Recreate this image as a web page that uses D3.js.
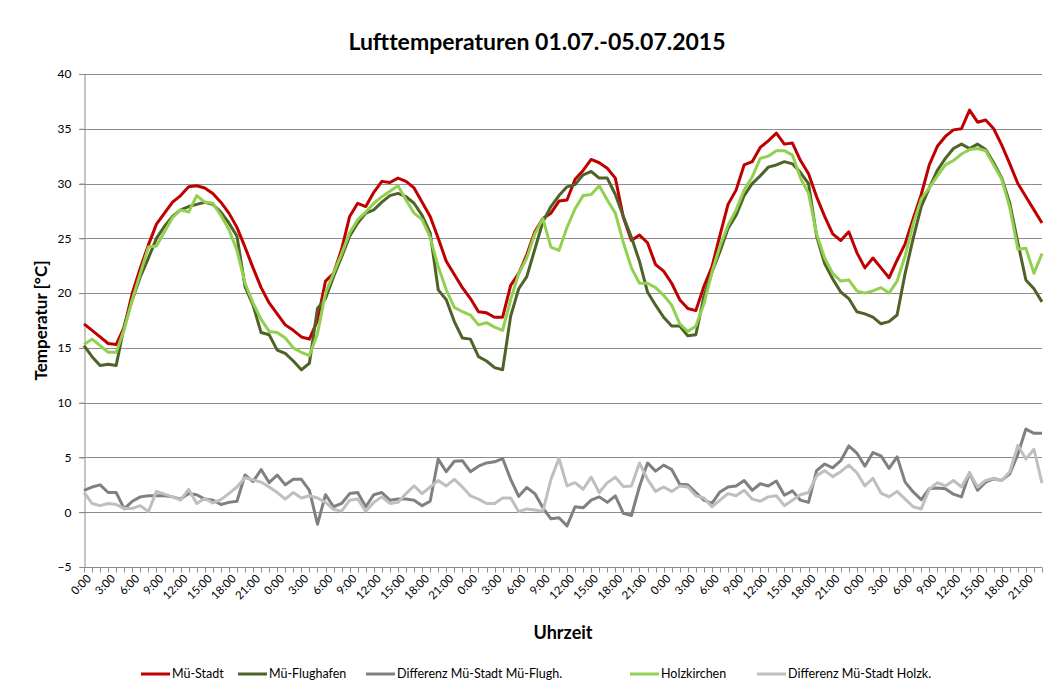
<!DOCTYPE html>
<html><head><meta charset="utf-8">
<script src="https://cdn.jsdelivr.net/npm/d3@7"></script>
<style>
html,body{margin:0;padding:0;background:#fff;}
svg{display:block;font-family:Lato,"Open Sans",sans-serif;}
</style></head>
<body><svg id="c" width="1056" height="691"></svg>
<script>
// ---- data ----
const title = "Lufttemperaturen 01.07.-05.07.2015";
const yTitle = "Temperatur [°C]";
const xTitle = "Uhrzeit";
const hourLabels = ["0:00","1:00","2:00","3:00","4:00","5:00","6:00","7:00","8:00","9:00","10:00","11:00",
  "12:00","13:00","14:00","15:00","16:00","17:00","18:00","19:00","20:00","21:00","22:00","23:00"];
const dayCount = 5;
const yTicks = [-5,0,5,10,15,20,25,30,35,40];

const muStadt = [
 17.2,16.6,16.0,15.4,15.3,16.9,20.0,22.3,24.4,26.3,27.3,28.3,28.9,29.7,29.8,29.6,29.1,28.3,27.3,26.0,24.2,22.3,20.5,19.1,
 18.1,17.1,16.6,16.0,15.8,17.5,21.1,21.8,24.0,27.0,28.2,27.9,29.2,30.2,30.1,30.5,30.2,29.6,28.3,27.0,25.0,22.9,21.7,20.5,
 19.5,18.3,18.2,17.8,17.8,20.7,21.8,23.5,25.6,26.8,27.3,28.4,28.5,30.4,31.2,32.2,31.9,31.4,30.5,26.9,24.8,25.3,24.6,22.6,
 22.0,20.9,19.4,18.6,18.4,20.6,22.4,25.3,28.1,29.4,31.7,32.0,33.3,33.9,34.6,33.6,33.7,32.1,30.9,28.8,27.0,25.4,24.8,25.6,
 23.7,22.3,23.2,22.3,21.4,23.0,24.5,26.8,29.0,31.7,33.4,34.3,34.9,35.0,36.7,35.6,35.8,35.0,33.5,31.8,30.0,28.8,27.6,26.4];
const muFlughafen = [
 15.2,14.2,13.4,13.5,13.4,17.0,19.4,21.5,23.2,25.0,26.1,27.0,27.6,27.9,28.1,28.3,28.1,27.4,26.4,25.2,20.6,18.9,16.4,16.2,
 14.8,14.5,13.8,13.0,13.6,18.6,19.5,21.5,23.3,25.2,26.4,27.3,27.6,28.3,28.9,29.1,28.8,28.2,27.1,25.5,20.3,19.4,17.4,15.9,
 15.8,14.2,13.8,13.2,13.0,17.9,20.4,21.5,24.0,26.5,27.9,28.9,29.7,29.9,30.8,31.1,30.5,30.5,29.0,27.0,25.1,22.9,20.1,18.9,
 17.8,17.0,17.0,16.1,16.2,19.7,21.9,23.8,25.9,27.1,28.9,30.0,30.7,31.5,31.7,32.0,31.8,31.0,30.0,25.2,22.7,21.3,20.1,19.5,
 18.3,18.1,17.8,17.2,17.4,18.0,21.8,25.0,27.9,29.6,31.2,32.3,33.2,33.6,33.2,33.6,33.1,31.9,30.5,28.2,24.6,21.2,20.4,19.2];
const diffFlugh = [
 2.0,2.3,2.5,1.8,1.8,0.3,1.0,1.4,1.5,1.5,1.5,1.4,1.2,1.7,1.6,1.2,1.1,0.7,0.9,1.0,3.4,2.8,3.9,2.7,
 3.4,2.5,3.0,3.0,2.0,-1.1,1.6,0.5,0.8,1.7,1.8,0.5,1.6,1.8,1.1,1.2,1.2,1.1,0.6,1.0,4.85,3.7,4.65,4.7,
 3.7,4.2,4.5,4.6,4.9,3.0,1.45,2.25,1.7,0.4,-0.6,-0.5,-1.25,0.5,0.4,1.1,1.4,0.9,1.5,-0.1,-0.3,2.35,4.5,3.75,
 4.3,3.9,2.55,2.5,1.8,1.1,0.8,1.85,2.3,2.4,2.9,2.0,2.6,2.4,2.85,1.55,1.95,1.1,0.9,3.8,4.4,4.05,4.7,6.05,
 5.4,4.2,5.45,5.15,4.0,5.05,2.75,1.85,1.15,2.15,2.2,2.15,1.65,1.4,3.6,2.0,2.75,3.05,2.9,3.5,5.3,7.6,7.2,7.2];
const holzkirchen = [
 15.3,15.8,15.2,14.6,14.6,16.7,19.4,21.8,24.2,24.3,25.6,26.9,27.6,27.4,28.9,28.3,28.2,27.1,25.8,23.9,20.9,19.1,17.6,16.5,
 16.4,15.9,15.0,14.6,14.3,16.3,20.0,21.8,23.6,25.5,26.7,27.4,28.2,28.8,29.3,29.8,28.5,27.3,26.7,25.1,22.4,20.3,18.7,18.3,
 18.0,17.1,17.3,16.9,16.6,19.4,21.8,23.2,25.4,26.8,24.2,23.9,26.0,27.7,28.9,29.0,29.8,28.5,27.3,24.6,22.3,20.9,20.9,20.5,
 19.8,18.9,17.2,16.5,17.0,19.0,21.9,24.3,26.2,27.6,29.4,30.6,32.3,32.5,33.0,33.0,32.6,30.5,29.1,25.4,23.2,21.8,21.1,21.2,
 20.2,20.0,20.2,20.5,20.0,21.1,23.4,26.3,28.6,29.6,30.7,31.7,32.1,32.7,33.1,33.2,33.0,31.7,30.4,27.8,24.0,24.1,21.8,23.6];
const diffHolzk = [
 1.8,0.8,0.6,0.8,0.7,0.35,0.35,0.6,0.05,1.9,1.65,1.4,1.1,2.1,0.8,1.25,0.85,1.15,1.7,2.3,3.15,2.95,2.75,2.3,
 1.8,1.2,1.8,1.3,1.5,1.3,0.9,0.25,0.1,1.1,1.2,0.1,0.9,1.4,0.8,0.9,1.7,2.4,1.7,2.3,2.9,2.4,3.0,2.3,
 1.5,1.2,0.8,0.8,1.3,1.3,0.05,0.3,0.2,0.1,3.0,4.9,2.4,2.7,2.1,3.2,1.8,2.7,3.2,2.35,2.4,4.5,3.0,1.9,
 2.3,1.9,2.4,2.3,1.5,1.3,0.5,1.1,1.7,1.5,2.0,1.2,1.0,1.4,1.5,0.6,1.1,1.6,1.8,3.3,3.8,3.25,3.7,4.3,
 3.6,2.4,3.1,1.75,1.4,1.9,1.2,0.5,0.3,2.1,2.7,2.4,2.9,2.3,3.6,2.3,2.9,3.1,2.9,3.7,6.1,4.85,5.75,2.65];

const seriesNames = ["Mü-Stadt","Mü-Flughafen","Differenz Mü-Stadt Mü-Flugh.","Holzkirchen","Differenz Mü-Stadt Holzk."];
const seriesColors = ["#C00000","#4F6228","#808080","#92D050","#BFBFBF"];
const seriesValues = [muStadt, muFlughafen, diffFlugh, holzkirchen, diffHolzk];

// ---- layout ----
const categories = [];
for (let d = 0; d < dayCount; d++) hourLabels.forEach(h => categories.push(h));

const svg = d3.select("#c");
const L = 84, R = 1042, T = 74, B = 567;
const x = d3.scaleLinear().domain([0, categories.length - 1]).range([L, R]);
const y = d3.scaleLinear().domain([-5, 40]).range([B, T]);
const gridCol = "#8c8c8c";

// gridlines
svg.append("g").selectAll("line").data(yTicks.filter(t => t > -5)).join("line")
  .attr("x1", L - 5).attr("x2", R).attr("y1", d => Math.round(y(d)) + 0.5).attr("y2", d => Math.round(y(d)) + 0.5)
  .attr("stroke", gridCol).attr("stroke-width", 1);

// y axis
const yAxis = d3.axisLeft(y).tickValues(yTicks).tickSize(5).tickPadding(8).tickFormat(d3.format("d"));
const gy = svg.append("g").attr("transform", `translate(${L + 0.5},0)`).call(yAxis);
gy.select(".domain").attr("stroke", gridCol);
gy.selectAll(".tick line").attr("stroke", gridCol);
gy.selectAll(".tick text").attr("font-size", 12).attr("fill", "#000").attr("font-family", "Lato,'Open Sans',sans-serif");

// x axis
const gx = svg.append("g").attr("transform", `translate(0,${Math.round(B) + 0.5})`);
gx.append("line").attr("x1", L).attr("x2", R).attr("stroke", gridCol);
gx.selectAll("line.tk").data(categories).join("line").attr("class", "tk")
  .attr("x1", (d, i) => Math.round(x(i)) + 0.5).attr("x2", (d, i) => Math.round(x(i)) + 0.5)
  .attr("y1", 0).attr("y2", 5).attr("stroke", gridCol);
gx.selectAll("text").data(categories.map((c, i) => ({c, i})).filter(d => d.i % 3 === 0)).join("text")
  .attr("transform", d => `translate(${x(d.i) + 5},${9}) rotate(-45)`)
  .attr("text-anchor", "end").attr("dy", "0.35em")
  .attr("font-size", 11.5).attr("fill", "#000")
  .text(d => d.c);

// series
const line = d3.line().x((d, i) => x(i)).y(d => y(d));
seriesValues.forEach((vals, k) => {
  svg.append("path").datum(vals).attr("d", line)
    .attr("fill", "none").attr("stroke", seriesColors[k]).attr("stroke-width", 3)
    .attr("stroke-linejoin", "round").attr("stroke-linecap", "butt");
});

// titles
svg.append("text").attr("x", 537).attr("y", 50).attr("text-anchor", "middle")
  .attr("font-size", 23).attr("font-weight", "bold").attr("fill", "#000").text(title);
svg.append("text").attr("transform", `translate(47,${(T + B) / 2}) rotate(-90)`).attr("text-anchor", "middle")
  .attr("font-size", 17).attr("font-weight", "bold").attr("fill", "#000").text(yTitle);
svg.append("text").attr("x", (L + R) / 2).attr("y", 639).attr("text-anchor", "middle")
  .attr("font-size", 18).attr("font-weight", "bold").attr("fill", "#000").text(xTitle);

// legend
const legendX = [141, 238, 366, 630, 757];
const lg = svg.append("g").attr("transform", "translate(0,674)");
seriesNames.forEach((n, k) => {
  lg.append("line").attr("x1", legendX[k]).attr("x2", legendX[k] + 29).attr("y1", 0).attr("y2", 0)
    .attr("stroke", seriesColors[k]).attr("stroke-width", 3);
  lg.append("text").attr("x", legendX[k] + 31).attr("y", 0).attr("dy", "0.35em")
    .attr("font-size", 12.5).attr("fill", "#000").text(n);
});
</script></body></html>
